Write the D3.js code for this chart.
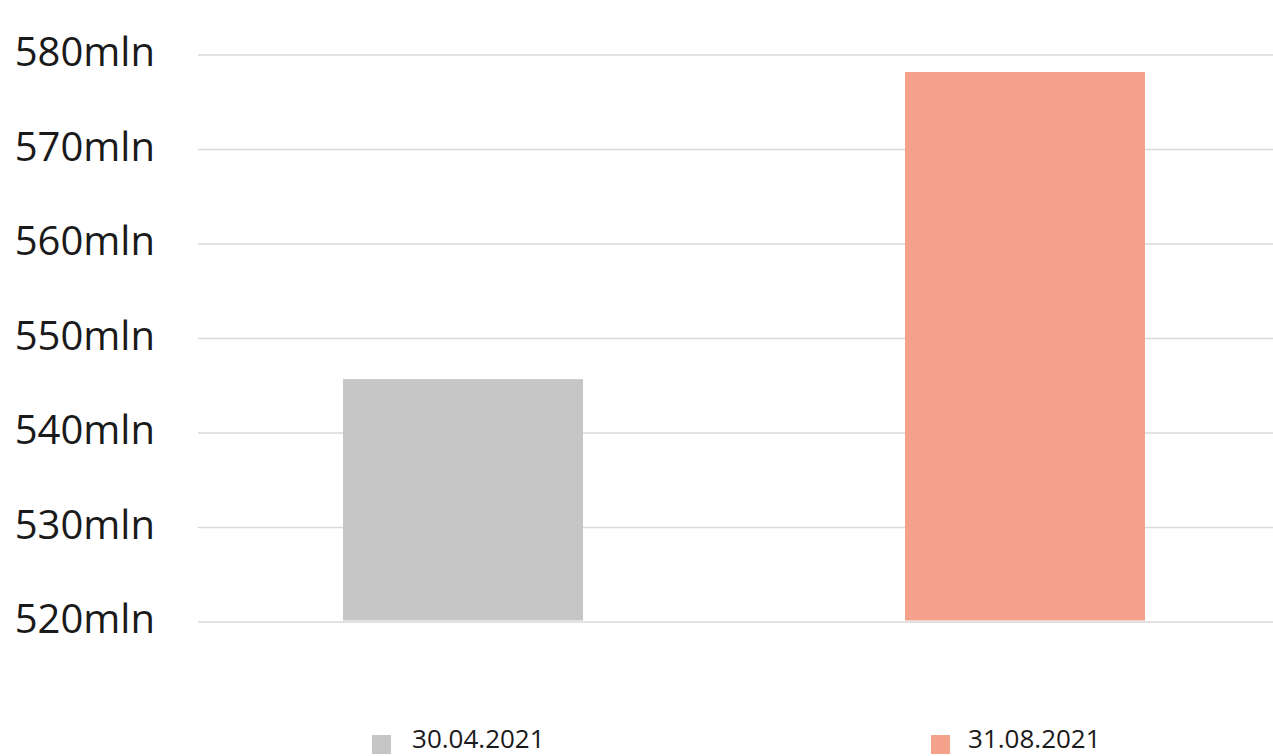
<!DOCTYPE html>
<html><head><meta charset="utf-8">
<script src="https://cdn.jsdelivr.net/npm/d3@7"></script>
<style>html,body{margin:0;padding:0;background:#fff;overflow:hidden}</style>
</head><body>
<svg id="c" width="1273" height="756"></svg>
<script>
const categories = ["30.04.2021", "31.08.2021"];
const values = [545.7, 578.2];
const colors = ["#c6c6c6", "#f4a28c"];
const yTicks = [520, 530, 540, 550, 560, 570, 580];
const tickLabel = v => v + "mln";

const svg = d3.select("#c");
const y = d3.scaleLinear().domain([520, 580]).range([622, 55]);
const x = d3.scaleBand().domain(categories).range([182, 1306]).paddingInner(0.573).paddingOuter(0.2865);

const grid = svg.append("g");
grid.selectAll("line").data(yTicks).join("line")
  .attr("x1", 198).attr("x2", 1273)
  .attr("y1", d => y(d)).attr("y2", d => y(d))
  .attr("stroke", "#d9d9d9").attr("stroke-width", 1.5);

svg.append("g").selectAll("text").data(yTicks).join("text")
  .attr("x", 155).attr("y", d => y(d) + 11)
  .attr("text-anchor", "end")
  .attr("font-family", "'Open Sans', sans-serif")
  .attr("font-size", 40).attr("fill", "#1a1a1a")
  .text(tickLabel);

svg.append("g").selectAll("rect").data(categories).join("rect")
  .attr("x", d => x(d)).attr("width", x.bandwidth())
  .attr("y", (d, i) => y(values[i]))
  .attr("height", (d, i) => y(520) - 1.5 - y(values[i]))
  .attr("fill", (d, i) => colors[i]);

const leg = svg.append("g").selectAll("g").data(categories).join("g")
  .attr("transform", (d, i) => `translate(${x(d) + 29 - i * 3},735)`);
leg.append("rect").attr("width", 19).attr("height", 19).attr("fill", (d, i) => colors[i]);
leg.append("text").attr("x", (d, i) => 40 - i * 3).attr("y", 13)
  .attr("font-family", "'Open Sans', sans-serif").attr("font-size", 26).attr("fill", "#1a1a1a")
  .text(d => d);
</script>
</body></html>
